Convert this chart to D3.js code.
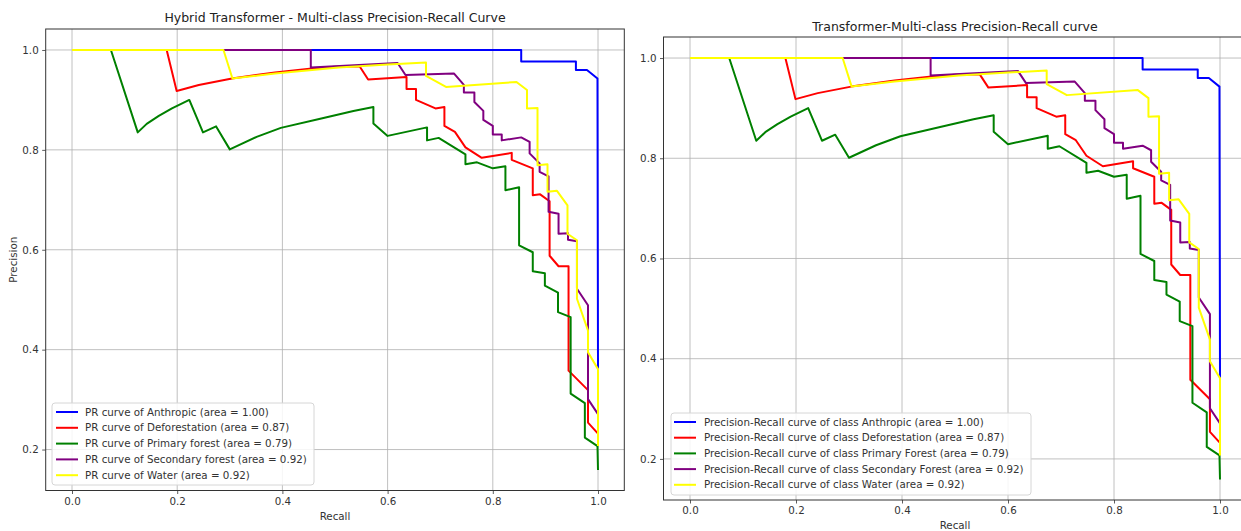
<!DOCTYPE html>
<html>
<head>
<meta charset="utf-8">
<script src="https://cdn.jsdelivr.net/npm/d3@7/dist/d3.min.js"></script>
<style>
  html, body { margin: 0; padding: 0; background: #fff; }
  svg { display: block; font-family: "DejaVu Sans", sans-serif; }
</style>
</head>
<body>
<svg id="chart" width="1241" height="531"></svg>
<script>
// ---------- DATA ----------
const classNames = ["Anthropic", "Deforestation", "Primary forest", "Secondary forest", "Water"];
const classNamesRight = ["Anthropic", "Deforestation", "Primary Forest", "Secondary Forest", "Water"];
const areas = ["1.00", "0.87", "0.79", "0.92", "0.92"];
const colors = ["#0000ff", "#ff0000", "#008000", "#800080", "#ffff00"];

const anthropicRecall    = [0, 0.854, 0.854, 0.958, 0.958, 0.979, 0.999, 1.0];
const anthropicPrecision = [1, 1.0,   0.977, 0.977, 0.960, 0.960, 0.943, 0.362];

const deforestationRecall    = [0, 0.180, 0.199, 0.241, 0.304, 0.386, 0.456, 0.507, 0.547, 0.563, 0.636, 0.636, 0.654, 0.654, 0.691, 0.708, 0.708, 0.728, 0.748, 0.779, 0.836, 0.836, 0.876, 0.876, 0.890, 0.908, 0.908, 0.925, 0.944, 0.944, 0.981, 0.981, 1.0];
const deforestationPrecision = [1, 1.0,   0.918, 0.930, 0.943, 0.955, 0.963, 0.967, 0.967, 0.941, 0.946, 0.922, 0.922, 0.900, 0.883, 0.886, 0.848, 0.836, 0.805, 0.784, 0.794, 0.780, 0.763, 0.709, 0.711, 0.697, 0.588, 0.567, 0.567, 0.358, 0.319, 0.254, 0.232];

const primaryRecall    = [0, 0.074, 0.125, 0.142, 0.165, 0.190, 0.223, 0.249, 0.274, 0.300, 0.351, 0.397, 0.474, 0.535, 0.573, 0.573, 0.600, 0.675, 0.675, 0.697, 0.748, 0.748, 0.770, 0.800, 0.824, 0.824, 0.850, 0.850, 0.876, 0.876, 0.899, 0.899, 0.924, 0.924, 0.948, 0.948, 0.975, 0.975, 0.999, 1.0];
const primaryPrecision = [1, 1.0,   0.835, 0.852, 0.868, 0.883, 0.900, 0.835, 0.847, 0.801, 0.826, 0.844, 0.863, 0.878, 0.886, 0.853, 0.828, 0.845, 0.819, 0.824, 0.791, 0.771, 0.775, 0.763, 0.767, 0.719, 0.725, 0.609, 0.595, 0.557, 0.553, 0.528, 0.514, 0.475, 0.465, 0.312, 0.293, 0.224, 0.207, 0.159];

const secondaryRecall    = [0, 0.454, 0.454, 0.619, 0.634, 0.726, 0.745, 0.745, 0.765, 0.765, 0.782, 0.782, 0.800, 0.800, 0.817, 0.817, 0.854, 0.870, 0.870, 0.889, 0.889, 0.906, 0.906, 0.925, 0.925, 0.943, 0.943, 0.960, 0.960, 0.981, 0.981, 1.0];
const secondaryPrecision = [1, 1.0,   0.965, 0.974, 0.950, 0.953, 0.930, 0.915, 0.915, 0.896, 0.878, 0.860, 0.848, 0.831, 0.831, 0.819, 0.825, 0.816, 0.793, 0.773, 0.756, 0.747, 0.676, 0.672, 0.632, 0.633, 0.620, 0.617, 0.522, 0.489, 0.301, 0.271];

const waterRecall    = [0, 0.288, 0.305, 0.386, 0.507, 0.600, 0.673, 0.673, 0.711, 0.845, 0.865, 0.865, 0.885, 0.885, 0.904, 0.904, 0.922, 0.942, 0.942, 0.960, 0.960, 0.981, 0.981, 1.0, 1.0];
const waterPrecision = [1, 1.0,   0.943, 0.953, 0.965, 0.971, 0.975, 0.948, 0.926, 0.936, 0.920, 0.883, 0.884, 0.769, 0.771, 0.716, 0.718, 0.689, 0.632, 0.619, 0.502, 0.438, 0.395, 0.361, 0.207];

const xTicks = [0.0, 0.2, 0.4, 0.6, 0.8, 1.0];
const yTicks = [0.2, 0.4, 0.6, 0.8, 1.0];

const seriesRecall = [anthropicRecall, deforestationRecall, primaryRecall, secondaryRecall, waterRecall];
const seriesPrecision = [anthropicPrecision, deforestationPrecision, primaryPrecision, secondaryPrecision, waterPrecision];

// ---------- DRAW ----------
const svg = d3.select("#chart");
const xDomain = [-0.05, 1.05];
const yDomain = [0.118, 1.042];
const FS = "10.3px";

function panel(opts) {
  const g = svg.append("g");
  const x = d3.scaleLinear().domain(xDomain).range([opts.left, opts.right]);
  const y = d3.scaleLinear().domain(yDomain).range([opts.bottom, opts.top]);

  const clipId = "clip" + opts.id;
  svg.append("clipPath").attr("id", clipId)
    .append("rect").attr("x", opts.left).attr("y", opts.top)
    .attr("width", opts.right - opts.left).attr("height", opts.bottom - opts.top);

  // grid
  g.append("g").selectAll("line").data(xTicks).join("line")
    .attr("x1", d => x(d)).attr("x2", d => x(d))
    .attr("y1", opts.top).attr("y2", opts.bottom)
    .attr("stroke", "#b0b0b0").attr("stroke-width", 0.8)
    .attr("clip-path", `url(#${clipId})`);
  g.append("g").selectAll("line").data(yTicks).join("line")
    .attr("y1", d => y(d)).attr("y2", d => y(d))
    .attr("x1", opts.left).attr("x2", opts.right)
    .attr("stroke", "#b0b0b0").attr("stroke-width", 0.8)
    .attr("clip-path", `url(#${clipId})`);

  // lines
  const line = d3.line().x(d => x(d[0])).y(d => y(d[1]));
  const lg = g.append("g").attr("clip-path", `url(#${clipId})`);
  seriesRecall.forEach((rs, i) => {
    const pts = rs.map((r, j) => [r, seriesPrecision[i][j]]);
    lg.append("path").datum(pts).attr("d", line)
      .attr("fill", "none").attr("stroke", colors[i])
      .attr("stroke-width", 2).attr("stroke-linejoin", "round");
  });

  // axes
  const xAxis = d3.axisBottom(x).tickValues(xTicks).tickFormat(d3.format(".1f")).tickSize(3.5).tickPadding(3.5);
  const yAxis = d3.axisLeft(y).tickValues(yTicks).tickFormat(d3.format(".1f")).tickSize(3.5).tickPadding(3.5);
  const gx = g.append("g").attr("transform", `translate(0,${opts.bottom})`).call(xAxis);
  const gy = g.append("g").attr("transform", `translate(${opts.left},0)`).call(yAxis);
  [gx, gy].forEach(a => {
    a.select(".domain").remove();
    a.selectAll("line").attr("stroke", "#333").attr("stroke-width", 0.8);
    a.selectAll("text").attr("fill", "#333").style("font-size", FS).style("font-family", "DejaVu Sans");
  });

  // frame
  g.append("rect").attr("x", opts.left).attr("y", opts.top)
    .attr("width", opts.right - opts.left).attr("height", opts.bottom - opts.top)
    .attr("fill", "none").attr("stroke", "#333").attr("stroke-width", 1);

  // title
  g.append("text").attr("x", (opts.left + opts.right) / 2).attr("y", opts.titleY)
    .attr("text-anchor", "middle").attr("fill", "#222")
    .style("font-size", "12.5px").text(opts.title);
  // x label
  g.append("text").attr("x", (opts.left + opts.right) / 2).attr("y", opts.xlabelY)
    .attr("text-anchor", "middle").attr("fill", "#333")
    .style("font-size", FS).text("Recall");
  if (opts.ylabel) {
    g.append("text").attr("transform", `translate(${opts.ylabelX},${(opts.top + opts.bottom) / 2}) rotate(-90)`)
      .attr("text-anchor", "middle").attr("fill", "#333")
      .style("font-size", FS).text(opts.ylabel);
  }

  // legend
  const L = opts.legend;
  const leg = g.append("g");
  leg.append("rect").attr("x", L.x).attr("y", L.y).attr("width", L.w).attr("height", L.h)
    .attr("rx", 3).attr("fill", "#fff").attr("fill-opacity", 0.85)
    .attr("stroke", "#d6d6d6").attr("stroke-width", 1);
  opts.labels.forEach((lab, i) => {
    const cy = L.firstY + i * L.step;
    leg.append("line").attr("x1", L.hx1).attr("x2", L.hx2).attr("y1", cy).attr("y2", cy)
      .attr("stroke", colors[i]).attr("stroke-width", 2);
    leg.append("text").attr("x", L.tx).attr("y", cy).attr("dy", "0.35em")
      .attr("fill", "#333").style("font-size", FS).text(lab);
  });
}

panel({
  id: "L", left: 45.7, right: 624.3, top: 29, bottom: 490.5,
  title: "Hybrid Transformer - Multi-class Precision-Recall Curve", titleY: 22,
  xlabelY: 520, ylabel: "Precision", ylabelX: 17,
  labels: classNames.map((c, i) => `PR curve of ${c} (area = ${areas[i]})`),
  legend: { x: 52, y: 403, w: 262, h: 82, firstY: 412, step: 15.8, hx1: 56, hx2: 78, tx: 85 }
});

panel({
  id: "R", left: 663.5, right: 1246.5, top: 37, bottom: 500,
  title: "Transformer-Multi-class Precision-Recall curve", titleY: 31,
  xlabelY: 529, ylabel: null,
  labels: classNamesRight.map((c, i) => `Precision-Recall curve of class ${c} (area = ${areas[i]})`),
  legend: { x: 671, y: 413, w: 360, h: 82, firstY: 422, step: 15.7, hx1: 674, hx2: 696, tx: 704 }
});
</script>
</body>
</html>
